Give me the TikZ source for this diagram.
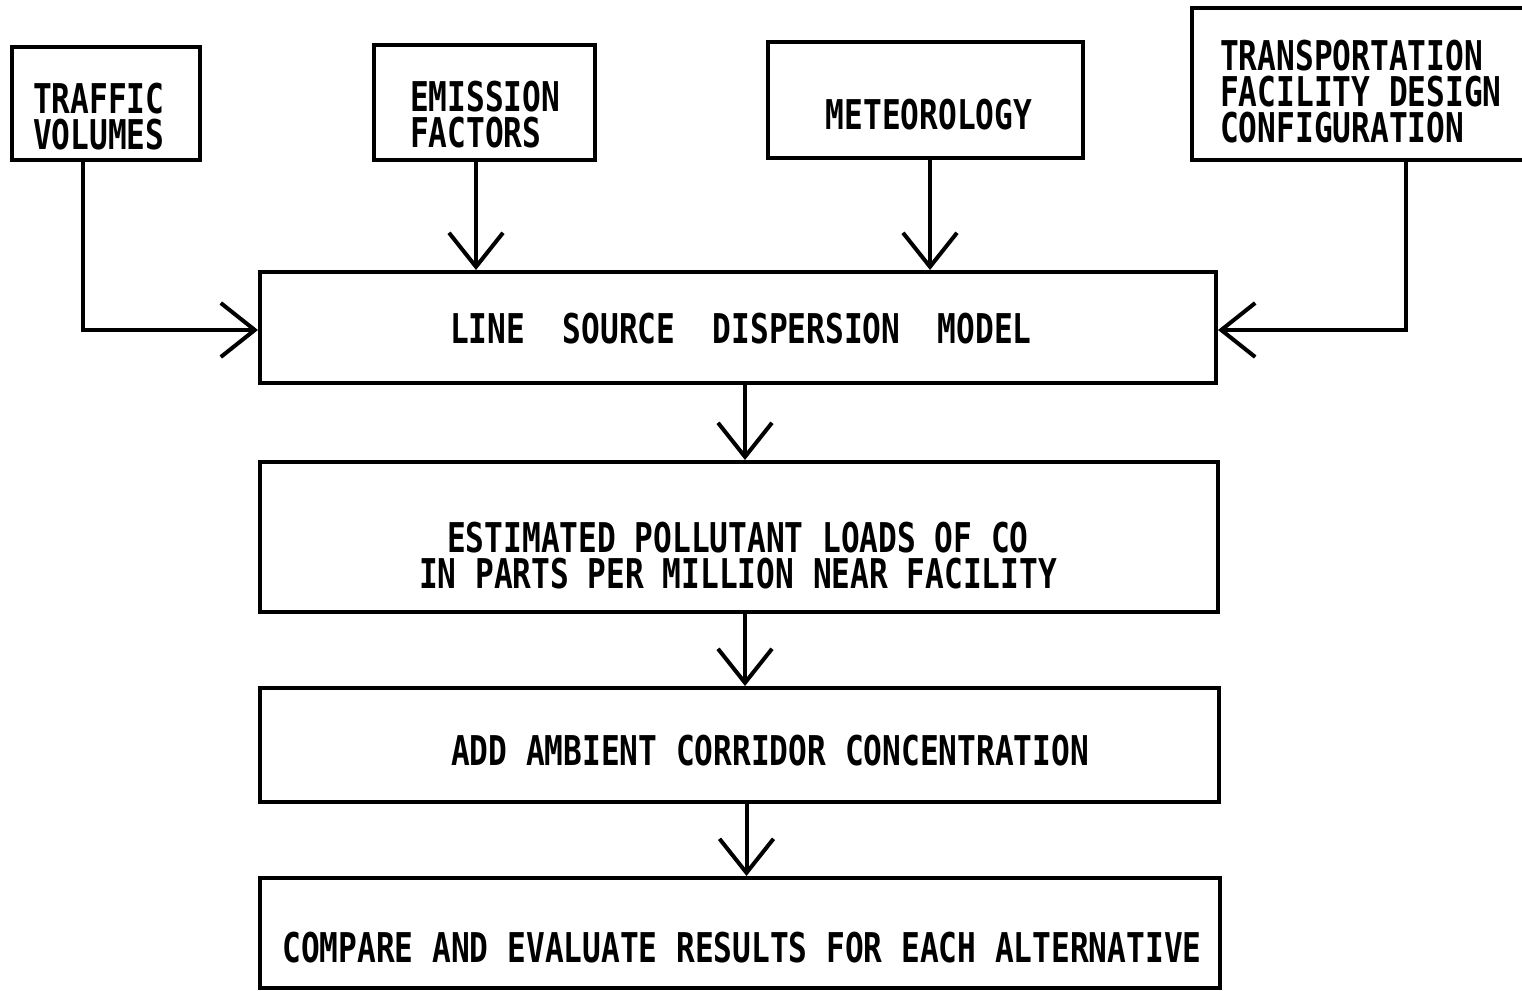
\documentclass[tikz,border=0pt]{standalone}
\usepackage{fontspec}
\setmonofont[FakeStretch=0.76,UprightFont={* Bold}]{DejaVu Sans Mono}
\usetikzlibrary{arrows.meta}
\begin{document}
\begin{tikzpicture}[x=1pt,y=-1pt,
  box/.style={draw,line width=4pt,inner sep=0pt,minimum width=#1},
  lbl/.style={font=\fontsize{41}{36}\selectfont\ttfamily,inner sep=0pt},
  arr/.style={line width=4pt,-{Straight Barb[length=34pt,width=54pt,line width=4pt]}}]
\clip (0,0) rectangle (1522,990);
% boxes
\node[box=188pt,minimum height=113pt] (tv) at (106,103.5) {};
\node[box=221pt,minimum height=115pt] (em) at (484.5,102.5) {};
\node[box=315pt,minimum height=116pt] (me) at (925.5,100) {};
\node[box=338pt,minimum height=152pt] (tr) at (1361,84) {};
\node[box=956pt,minimum height=111pt] (ls) at (738,327.5) {};
\node[box=958pt,minimum height=150pt] (es) at (739,537) {};
\node[box=959pt,minimum height=114pt] (ad) at (739.5,745) {};
\node[box=960pt,minimum height=110pt] (co) at (740,933) {};
% texts
\node[lbl,align=left,anchor=west] at (33,117) {TRAFFIC\\VOLUMES};
\node[lbl,align=left,anchor=west] at (410,115) {EMISSION\\FACTORS};
\node[lbl] at (929,115) {METEOROLOGY};
\node[lbl,align=left,anchor=west] at (1220,92) {TRANSPORTATION\\FACILITY DESIGN\\CONFIGURATION};
\node[lbl] at (741,329) {LINE~~SOURCE~~DISPERSION~~MODEL};
\node[lbl,align=center] at (738,556) {ESTIMATED POLLUTANT LOADS OF CO\\IN PARTS PER MILLION NEAR FACILITY};
\node[lbl] at (770,751) {ADD AMBIENT CORRIDOR CONCENTRATION};
\node[lbl] at (742,948) {COMPARE AND EVALUATE RESULTS FOR EACH ALTERNATIVE};
% connectors
\draw[arr] ([xshift=73pt]tv.south west) |- ([yshift=-2.5pt]ls.west);
\draw[arr] ([xshift=104pt]em.south west) -- ([xshift=104pt]em.south west |- ls.north);
\draw[arr] ([xshift=164pt]me.south west) -- ([xshift=164pt]me.south west |- ls.north);
\draw[arr] ([xshift=216pt]tr.south west) |- ([yshift=-2.5pt]ls.east);
\draw[arr] ([xshift=7pt]ls.south) -- ([xshift=7pt]ls.south |- es.north);
\draw[arr] ([xshift=6pt]es.south) -- ([xshift=6pt]es.south |- ad.north);
\draw[arr] ([xshift=7pt]ad.south) -- ([xshift=7pt]ad.south |- co.north);
\end{tikzpicture}
\end{document}
